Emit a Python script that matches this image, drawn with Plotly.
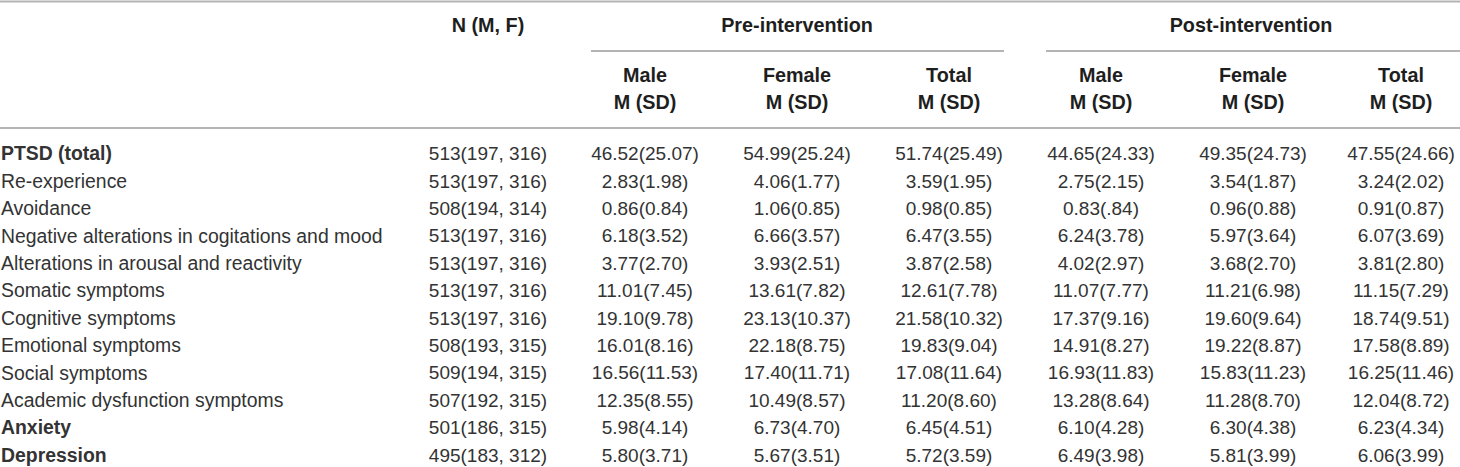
import plotly.graph_objects as go

# Table values
measures = ["PTSD (total)", "Re-experience", "Avoidance",
            "Negative alterations in cogitations and mood",
            "Alterations in arousal and reactivity", "Somatic symptoms",
            "Cognitive symptoms", "Emotional symptoms", "Social symptoms",
            "Academic dysfunction symptoms", "Anxiety", "Depression"]
bold_rows = ["PTSD (total)", "Anxiety", "Depression"]

n_total = [513, 513, 508, 513, 513, 513, 513, 508, 509, 507, 501, 495]
n_male = [197, 197, 194, 197, 197, 197, 197, 193, 194, 192, 186, 183]
n_female = [316, 316, 314, 316, 316, 316, 316, 315, 315, 315, 315, 312]

pre_male = ["46.52(25.07)", "2.83(1.98)", "0.86(0.84)", "6.18(3.52)", "3.77(2.70)", "11.01(7.45)",
            "19.10(9.78)", "16.01(8.16)", "16.56(11.53)", "12.35(8.55)", "5.98(4.14)", "5.80(3.71)"]
pre_female = ["54.99(25.24)", "4.06(1.77)", "1.06(0.85)", "6.66(3.57)", "3.93(2.51)", "13.61(7.82)",
              "23.13(10.37)", "22.18(8.75)", "17.40(11.71)", "10.49(8.57)", "6.73(4.70)", "5.67(3.51)"]
pre_total = ["51.74(25.49)", "3.59(1.95)", "0.98(0.85)", "6.47(3.55)", "3.87(2.58)", "12.61(7.78)",
             "21.58(10.32)", "19.83(9.04)", "17.08(11.64)", "11.20(8.60)", "6.45(4.51)", "5.72(3.59)"]
post_male = ["44.65(24.33)", "2.75(2.15)", "0.83(.84)", "6.24(3.78)", "4.02(2.97)", "11.07(7.77)",
             "17.37(9.16)", "14.91(8.27)", "16.93(11.83)", "13.28(8.64)", "6.10(4.28)", "6.49(3.98)"]
post_female = ["49.35(24.73)", "3.54(1.87)", "0.96(0.88)", "5.97(3.64)", "3.68(2.70)", "11.21(6.98)",
               "19.60(9.64)", "19.22(8.87)", "15.83(11.23)", "11.28(8.70)", "6.30(4.38)", "5.81(3.99)"]
post_total = ["47.55(24.66)", "3.24(2.02)", "0.91(0.87)", "6.07(3.69)", "3.81(2.80)", "11.15(7.29)",
              "18.74(9.51)", "17.58(8.89)", "16.25(11.46)", "12.04(8.72)", "6.23(4.34)", "6.06(3.99)"]

groups = ["Pre-intervention", "Post-intervention"]
sub_heads = ["Male", "Female", "Total"]

# layout (pixel-like axis units)
W, H = 1460, 467
FONT = "Liberation Sans, Arial, sans-serif"
TXT = "#333333"
LINE = "#b4b4b4"
col_x = [645, 797, 949, 1101, 1253, 1401]
n_x = 488
row_y0, row_dy = 155.5, 27.4
row_y = [row_y0 + i * row_dy for i in range(len(measures))]

fig = go.Figure()

labels = ["<b>%s</b>" % m if m in bold_rows else m for m in measures]
fig.add_trace(go.Scatter(x=[1] * len(measures), y=row_y, text=labels, mode="text",
                         textposition="middle right",
                         textfont=dict(family=FONT, size=19.4, color=TXT)))

n_text = ["%d(%d, %d)" % (t, m, f) for t, m, f in zip(n_total, n_male, n_female)]
fig.add_trace(go.Scatter(x=[n_x] * len(measures), y=row_y, text=n_text, mode="text",
                         textposition="middle center",
                         textfont=dict(family=FONT, size=19, color=TXT)))

for cx, col in zip(col_x, [pre_male, pre_female, pre_total, post_male, post_female, post_total]):
    fig.add_trace(go.Scatter(x=[cx] * len(col), y=row_y, text=col, mode="text",
                             textposition="middle center",
                             textfont=dict(family=FONT, size=19, color=TXT)))

# header text
hfont = dict(family=FONT, size=19.8, color="#1e1e1e")
hx = [n_x, (col_x[0] + col_x[2]) / 2, (col_x[3] + col_x[5]) / 2]
fig.add_trace(go.Scatter(x=hx, y=[27] * 3, text=["<b>N (M, F)</b>"] + ["<b>%s</b>" % g for g in groups],
                         mode="text", textposition="middle center", textfont=hfont))
fig.add_trace(go.Scatter(x=col_x, y=[77] * 6, text=["<b>%s</b>" % s for s in sub_heads * 2],
                         mode="text", textposition="middle center", textfont=hfont))
fig.add_trace(go.Scatter(x=col_x, y=[104] * 6, text=["<b>M (SD)</b>"] * 6,
                         mode="text", textposition="middle center", textfont=hfont))

# rules
for x0, x1, y in [(0, W, 1.5), (591, 1004, 51), (1046, W, 51), (0, W, 128)]:
    fig.add_shape(type="line", x0=x0, x1=x1, y0=y, y1=y, line=dict(color=LINE, width=2))

fig.update_xaxes(range=[0, W], visible=False, fixedrange=True)
fig.update_yaxes(range=[H, 0], visible=False, fixedrange=True)
fig.update_layout(width=W, height=H, margin=dict(l=0, r=0, t=0, b=0),
                  plot_bgcolor="white", paper_bgcolor="white", showlegend=False)
fig.update_traces(cliponaxis=False, hoverinfo="skip")

fig.write_html("out.html", config={"displayModeBar": False},
               post_script="document.body.style.margin='0';document.body.style.overflow='hidden';")
